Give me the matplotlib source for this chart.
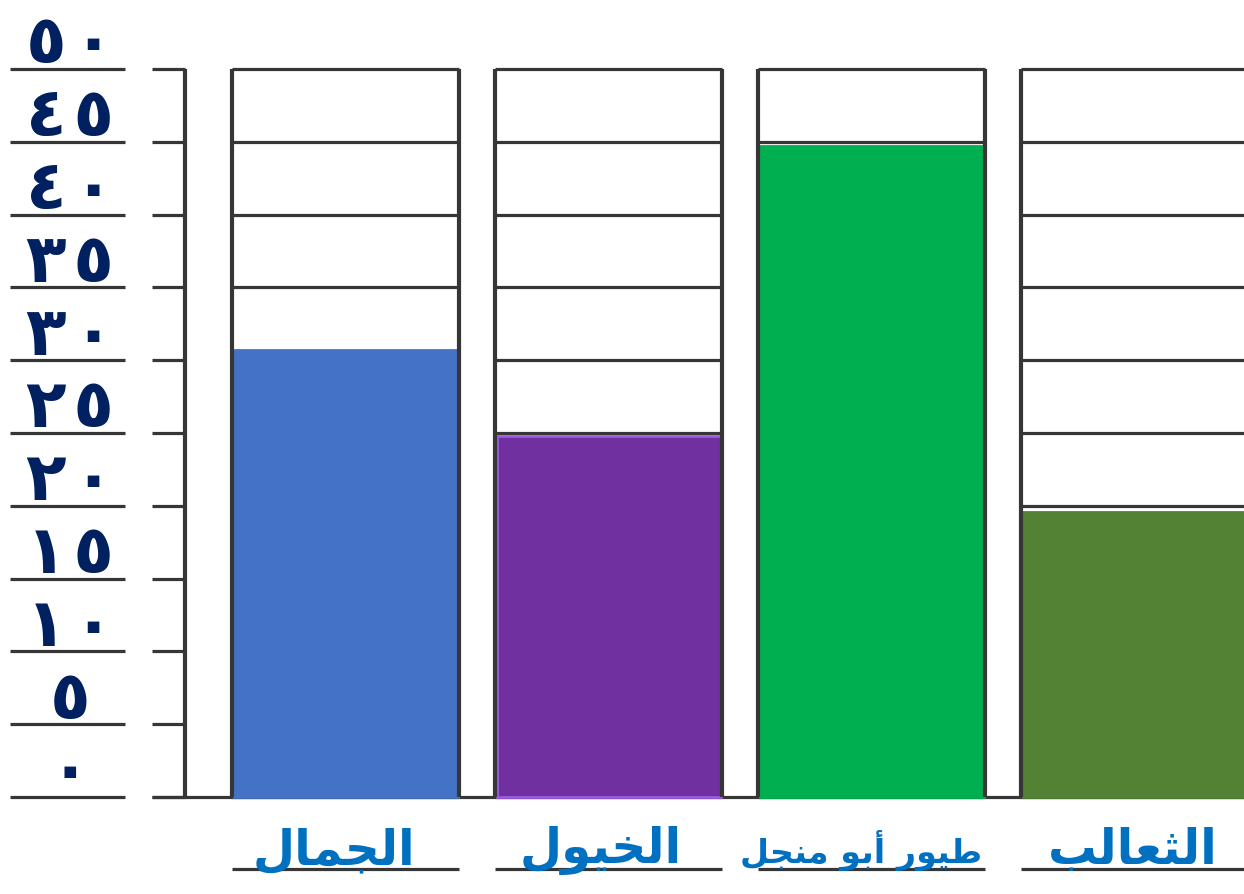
import matplotlib
matplotlib.use("Agg")
import matplotlib.pyplot as plt

# ---------------- data ----------------
categories = ["الجمال", "الخيول", "طيور أبو منجل", "الثعالب"]
values = [30.7, 24.8, 44.7, 19.6]
bar_colors = ["#4472C4", "#7030A0", "#00B050", "#548235"]
edge_colors = ["#4472C4", "#9B5BE0", "#00B050", "#548235"]
y_ticks = [0, 5, 10, 15, 20, 25, 30, 35, 40, 45, 50]
y_tick_labels = ["٠", "٥", "١٠", "١٥", "٢٠", "٢٥", "٣٠", "٣٥", "٤٠", "٤٥", "٥٠"]
label_sizes = [35, 35, 24, 35]
label_offsets = [-12, -8, -10, -2]

# ---------------- simple Arabic shaping ----------------
FORMS = {
    'ا': (0xFE8D, 0xFE8E), 'أ': (0xFE83, 0xFE84), 'إ': (0xFE87, 0xFE88),
    'آ': (0xFE81, 0xFE82), 'د': (0xFEA9, 0xFEAA), 'ذ': (0xFEAB, 0xFEAC),
    'ر': (0xFEAD, 0xFEAE), 'ز': (0xFEAF, 0xFEB0), 'و': (0xFEED, 0xFEEE),
    'ة': (0xFE93, 0xFE94),
    'ب': (0xFE8F, 0xFE90, 0xFE91, 0xFE92), 'ت': (0xFE95, 0xFE96, 0xFE97, 0xFE98),
    'ث': (0xFE99, 0xFE9A, 0xFE9B, 0xFE9C), 'ج': (0xFE9D, 0xFE9E, 0xFE9F, 0xFEA0),
    'ح': (0xFEA1, 0xFEA2, 0xFEA3, 0xFEA4), 'خ': (0xFEA5, 0xFEA6, 0xFEA7, 0xFEA8),
    'س': (0xFEB1, 0xFEB2, 0xFEB3, 0xFEB4), 'ش': (0xFEB5, 0xFEB6, 0xFEB7, 0xFEB8),
    'ط': (0xFEC1, 0xFEC2, 0xFEC3, 0xFEC4), 'ع': (0xFEC9, 0xFECA, 0xFECB, 0xFECC),
    'غ': (0xFECD, 0xFECE, 0xFECF, 0xFED0), 'ف': (0xFED1, 0xFED2, 0xFED3, 0xFED4),
    'ق': (0xFED5, 0xFED6, 0xFED7, 0xFED8), 'ك': (0xFED9, 0xFEDA, 0xFEDB, 0xFEDC),
    'ل': (0xFEDD, 0xFEDE, 0xFEDF, 0xFEE0), 'م': (0xFEE1, 0xFEE2, 0xFEE3, 0xFEE4),
    'ن': (0xFEE5, 0xFEE6, 0xFEE7, 0xFEE8), 'ه': (0xFEE9, 0xFEEA, 0xFEEB, 0xFEEC),
    'ي': (0xFEF1, 0xFEF2, 0xFEF3, 0xFEF4),
}


def shape(text):
    out = []
    n = len(text)
    for i, ch in enumerate(text):
        if ch not in FORMS:
            out.append(ch)
            continue
        prev = text[i - 1] if i > 0 else ''
        nxt = text[i + 1] if i < n - 1 else ''
        pj = prev in FORMS and len(FORMS[prev]) == 4
        nj = len(FORMS[ch]) == 4 and nxt in FORMS
        f = FORMS[ch]
        if pj and nj:
            out.append(chr(f[3]))
        elif pj:
            out.append(chr(f[1]))
        elif nj:
            out.append(chr(f[2]))
        else:
            out.append(chr(f[0]))
    return ''.join(out)[::-1]


# ---------------- figure ----------------
W, H = 1244, 895
fig = plt.figure(figsize=(W / 100, H / 100), dpi=100)
ax = fig.add_axes([0, 0, 1, 1])
px_per_unit = (798 - 70) / 50.0
ax.set_xlim(0, W)
ax.set_ylim(-(H - 798) / px_per_unit, 50 + 70 / px_per_unit)
ax.axis('off')

grid_c = "#363636"
first_center = 345.5
step = 263.0
box_w = 227.0
xs = [first_center + step * i for i in range(len(categories))]

# left tick column
ax.hlines(y_ticks, 10, 125, color=grid_c, lw=2.3, zorder=2)
ax.hlines(y_ticks, 152, 185, color=grid_c, lw=2.3, zorder=2)
ax.vlines(185, 0, 50, color=grid_c, lw=3.0, zorder=2)
ax.hlines(0, 152, W, color=grid_c, lw=2.3, zorder=2)

for lab, yv in zip(y_tick_labels, y_ticks):
    txt = "\u200a".join(lab)
    ax.text(70, yv + 0.45, txt, ha='center', va='baseline', fontsize=48,
            fontweight='bold', color="#002060", family='DejaVu Sans', zorder=5)

# grid boxes
for x in xs:
    l, r = x - box_w / 2, x + box_w / 2
    ax.hlines(y_ticks, l, r, color=grid_c, lw=2.3, zorder=2)
    ax.vlines([l, r], 0, 50, color=grid_c, lw=3.0, zorder=4)
    ax.hlines(-4.95, l, r, color=grid_c, lw=2.3, zorder=2)

# bars
ax.bar(xs, values, width=box_w - 3, color=bar_colors, edgecolor=edge_colors,
       linewidth=2, zorder=3)

# category labels
for x, cat, fs, dx in zip(xs, categories, label_sizes, label_offsets):
    ax.text(x + dx, -3.6, shape(cat), ha='center', va='center', fontsize=fs,
            fontweight='bold', color="#0070C0", family='DejaVu Sans', zorder=5)

fig.savefig("out.png", dpi=100)
